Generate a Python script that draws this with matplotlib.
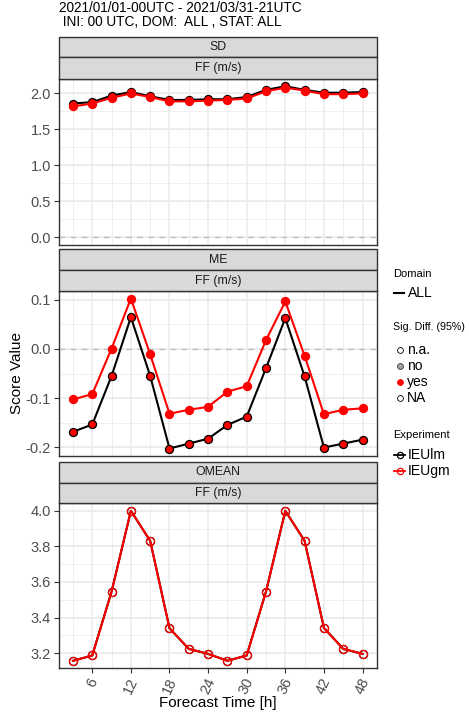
import matplotlib
matplotlib.use("Agg")
import matplotlib.pyplot as plt
import numpy as np
from matplotlib.lines import Line2D
from matplotlib.patches import Rectangle
import matplotlib.transforms as mtransforms

plt.rcParams['font.family'] = ['Liberation Sans', 'DejaVu Sans']

# ---------------- data ----------------
lead_times = [3, 6, 9, 12, 15, 18, 21, 24, 27, 30, 33, 36, 39, 42, 45, 48]
xtick_labels = ["6", "12", "18", "24", "30", "36", "42", "48"]
xtick_values = [6, 12, 18, 24, 30, 36, 42, 48]

sd_ieulm = [1.86, 1.88, 1.97, 2.02, 1.96, 1.91, 1.91, 1.92, 1.92, 1.95, 2.05, 2.10, 2.05, 2.01, 2.01, 2.02]
sd_ieugm = [1.82, 1.86, 1.94, 2.00, 1.95, 1.89, 1.89, 1.90, 1.91, 1.93, 2.03, 2.08, 2.04, 1.99, 1.99, 2.00]

me_ieulm = [-0.169, -0.154, -0.055, 0.065, -0.055, -0.203, -0.193, -0.183, -0.155, -0.138, -0.039, 0.063, -0.056, -0.201, -0.193, -0.185]
me_ieugm = [-0.103, -0.092, 0.001, 0.103, -0.011, -0.132, -0.124, -0.118, -0.087, -0.076, 0.018, 0.097, -0.014, -0.133, -0.124, -0.121]

omean_ieulm = [3.157, 3.187, 3.546, 4.000, 3.831, 3.340, 3.224, 3.196, 3.157, 3.187, 3.546, 4.000, 3.831, 3.342, 3.224, 3.196]
omean_ieugm = [3.157, 3.187, 3.546, 4.000, 3.831, 3.340, 3.224, 3.196, 3.157, 3.187, 3.546, 4.000, 3.831, 3.342, 3.224, 3.196]

scores = ["SD", "ME", "OMEAN"]
parameter = "FF (m/s)"
experiments = ["IEUlm", "IEUgm"]
exp_colors = ["black", "#FF0000"]
sig_labels = ["n.a.", "no", "yes", "NA"]
sig_fill = ["white", "#A6A6A6", "#FF0000", "white"]

title_lines = ["2021/01/01-00UTC - 2021/03/31-21UTC", " INI: 00 UTC, DOM:  ALL , STAT: ALL"]

# ---------------- layout ----------------
W, H = 469, 713
fig = plt.figure(figsize=(W / 100, H / 100), dpi=100)


def fx(x):
    return x / W


def fy(y):
    return 1 - y / H


left, right = 58.5, 377
panels = [
    # (strip1 top, strip divider, plot top, plot bottom)
    (37.3, 57.2, 78.7, 245.0),
    (249.3, 270.2, 291.0, 456.0),
    (461.7, 482.8, 503.3, 668.3),
]

grey20 = "#333333"
grey30 = "#4D4D4D"
grid_col = "#EBEBEB"

data = [
    (sd_ieulm, sd_ieugm, 0.5, 0.25, True, "filled"),
    (me_ieulm, me_ieugm, 0.1, 0.05, True, "filled"),
    (omean_ieulm, omean_ieugm, 0.2, 0.1, False, "open"),
]


def fmt(v):
    s = "%.1f" % v
    if s == "-0.0":
        s = "0.0"
    return s


axes = []
for i, ((s_top, s_mid, p_top, p_bot), score, (y1, y2, major, minor, hline, mstyle)) in enumerate(
        zip(panels, scores, data)):
    ax = fig.add_axes([fx(left), fy(p_bot), fx(right) - fx(left), fy(p_top) - fy(p_bot)])
    axes.append(ax)
    vals = np.array(y1 + y2)
    lo, hi = vals.min(), vals.max()
    if hline:
        lo, hi = min(lo, 0), max(hi, 0)
    pad = (hi - lo) * 0.05
    ax.set_ylim(lo - pad, hi + pad)
    xr = max(lead_times) - min(lead_times)
    ax.set_xlim(min(lead_times) - 0.05 * xr, max(lead_times) + 0.05 * xr)

    # grid
    yt = np.arange(np.ceil((lo - pad) / major) * major, hi + pad + 1e-9, major)
    ym = np.arange(np.ceil((lo - pad) / minor) * minor, hi + pad + 1e-9, minor)
    for v in ym:
        ax.axhline(v, color=grid_col, lw=0.55, zorder=0)
    for v in yt:
        ax.axhline(v, color=grid_col, lw=1.1, zorder=0)
    for v in xtick_values:
        ax.axvline(v, color=grid_col, lw=1.1, zorder=0)
    for v in [3, 9, 15, 21, 27, 33, 39, 45]:
        ax.axvline(v, color=grid_col, lw=0.55, zorder=0)
    if hline:
        ax.axhline(0, color="#BEBEBE", lw=1.0, ls=(0, (4, 4)), zorder=1)

    ax.set_yticks(yt)
    ax.set_yticklabels([fmt(v) for v in yt])
    ax.set_xticks(xtick_values)
    if i == 2:
        ax.set_xticklabels(xtick_labels, rotation=65, ha="center", va="top")
        offset = mtransforms.ScaledTranslation(4 / 100, 0, fig.dpi_scale_trans)
        for lab in ax.get_xticklabels():
            lab.set_transform(lab.get_transform() + offset)
    else:
        ax.set_xticklabels([])
    ax.tick_params(axis="both", colors=grey20, labelcolor=grey30, labelsize=10.5,
                   length=3.5, width=0.8, pad=2)
    if i != 2:
        ax.tick_params(axis="x", length=0)
    for sp in ax.spines.values():
        sp.set_color(grey20)
        sp.set_linewidth(1.0)

    # series
    for yv, col, z in [(y1, exp_colors[0], 3), (y2, exp_colors[1], 4)]:
        if mstyle == "filled":
            ax.plot(lead_times, yv, color=col, lw=1.5, zorder=z, marker="o", markersize=5.8,
                    markerfacecolor="#FF0000", markeredgecolor=col, markeredgewidth=0.9)
        else:
            ax.plot(lead_times, yv, color=col, lw=1.5, zorder=z, marker="o", markersize=5.8,
                    markerfacecolor="none", markeredgecolor=col, markeredgewidth=0.9)

    # strips
    for (a, b, txt) in [(s_top, s_mid, score), (s_mid, p_top, parameter)]:
        r = Rectangle((fx(left), fy(b)), fx(right) - fx(left), fy(a) - fy(b),
                      transform=fig.transFigure, facecolor="#D9D9D9", edgecolor=grey20,
                      lw=1.0, zorder=2)
        fig.add_artist(r)
        fig.text(fx((left + right) / 2), fy((a + b) / 2), txt, ha="center", va="center",
                 fontsize=8.8, color="#1A1A1A")

# titles
fig.text(fx(58.5), fy(8.5), title_lines[0], ha="left", va="center", fontsize=9.8, color="black")
fig.text(fx(58.5), fy(22.5), title_lines[1], ha="left", va="center", fontsize=9.8, color="black")

fig.text(fx(17), fy(373.5), "Score Value", rotation=90, ha="center", va="center",
         fontsize=11, color="black")
fig.text(fx((left + right) / 2), fy(703.5), "Forecast Time [h]", ha="center", va="center",
         fontsize=11, color="black")

# ---------------- legend ----------------
lx = 393
fig.text(fx(lx), fy(274), "Domain", ha="left", va="center", fontsize=8.0, color="black")
fig.add_artist(Line2D([fx(394), fx(404)], [fy(293), fy(293)], transform=fig.transFigure,
                      color="black", lw=1.5))
fig.text(fx(408), fy(293), "ALL", ha="left", va="center", fontsize=10, color="black")

fig.text(fx(lx), fy(327), "Sig. Diff. (95%)", ha="left", va="center", fontsize=7.7, color="black")
sig_y = [350, 366, 382, 398]
sig_edge = ["black", "#333333", "#FF0000", "black"]
for lab, fc, ec, yy in zip(sig_labels, sig_fill, sig_edge, sig_y):
    fig.add_artist(Line2D([fx(399.5)], [fy(yy)], transform=fig.transFigure, marker="o",
                          markersize=4.2, markerfacecolor=fc, markeredgecolor=ec,
                          markeredgewidth=0.6, linestyle="none"))
    fig.text(fx(407), fy(yy), lab, ha="left", va="center", fontsize=10, color="black")

fig.text(fx(lx), fy(435), "Experiment", ha="left", va="center", fontsize=8.0, color="black")
for lab, col, yy in zip(experiments, exp_colors, [455, 471]):
    fig.add_artist(Line2D([fx(394), fx(405)], [fy(yy), fy(yy)], transform=fig.transFigure,
                          color=col, lw=1.3))
    fig.add_artist(Line2D([fx(399.5)], [fy(yy)], transform=fig.transFigure, marker="o",
                          markersize=4.5, markerfacecolor="none", markeredgecolor=col,
                          markeredgewidth=0.9, linestyle="none"))
    fig.text(fx(408), fy(yy), lab, ha="left", va="center", fontsize=10, color="black")

fig.savefig("out.png", dpi=100)
